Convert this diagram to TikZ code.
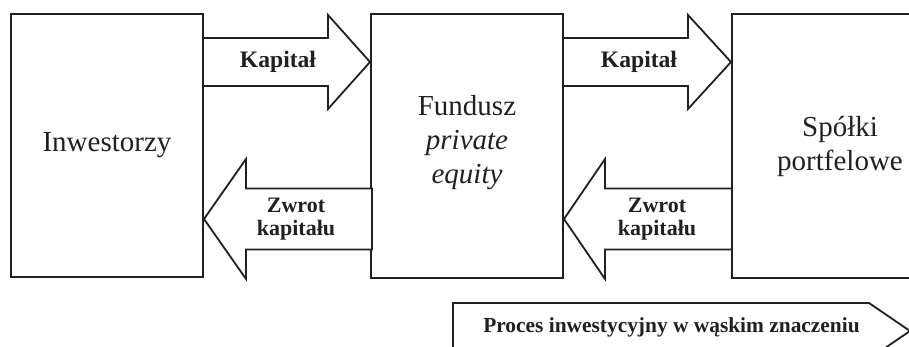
\documentclass[tikz,border=0pt]{standalone}
\usepackage{fontspec}
\setmainfont{Liberation Serif}
\definecolor{ink}{HTML}{231F20}
\begin{document}
\begin{tikzpicture}[x=0.5pt,y=-0.5pt,
  box/.style={draw=ink,line width=1pt,inner sep=0pt},
  barrow/.style={draw=ink,line width=0.9pt,fill=white,line join=miter},
  bigtxt/.style={text=ink,inner sep=0pt,align=center,font=\fontsize{14.5}{17}\selectfont},
  lbl/.style={text=ink,inner sep=0pt,align=center,font=\fontsize{11}{11.5}\selectfont\bfseries}]
\useasboundingbox (0,0) rectangle (909,347);
\clip (0,0) rectangle (909,347);
% boxes
\node[box,minimum width=96pt,minimum height=131.5pt] (inv) at (107,145.5) {};
\node[box,minimum width=96pt,minimum height=132pt] (fund) at (467,146) {};
\node[box,minimum width=110pt,minimum height=132pt,anchor=west] (spol) at (731,146) {};
% box texts
\node[bigtxt] (tinv) at (inv.center) {Inwestorzy};
\node[bigtxt] (tfund) at (467,143) {Fundusz\\\itshape private\\\itshape equity};
\node[bigtxt] (tspol) at (840,147) {Spółki\\portfelowe};
% block arrows
\draw[barrow] (203,38) -- (328,38) -- (328,15) -- (fund.west |- 0,62) -- (328,109) -- (328,86) -- (203,86) -- cycle;
\draw[barrow] (372,188.5) -- (246,188.5) -- (246,159) -- (inv.east |- 0,219) -- (246,279) -- (246,249.5) -- (372,249.5) -- cycle;
\draw[barrow] (563,38) -- (688,38) -- (688,15) -- (spol.west |- 0,62) -- (688,109) -- (688,86) -- (563,86) -- cycle;
\draw[barrow] (732,188.5) -- (605,188.5) -- (605,159) -- (fund.east |- 0,219) -- (605,279) -- (605,249.5) -- (732,249.5) -- cycle;
% arrow labels
\node[lbl,font=\fontsize{11.8}{12}\selectfont\bfseries] (k1) at (278,62) {Kapitał};
\node[lbl,font=\fontsize{11.8}{12}\selectfont\bfseries] (k2) at (639,62) {Kapitał};
\node[lbl] (z1) at (296,219) {Zwrot\\kapitału};
\node[lbl] (z2) at (657,219) {Zwrot\\kapitału};
% process arrow
\draw[barrow] (453,365) -- (453,303) -- (869,303) -- (910,331) -- (869,359) -- (869,365);
\node[lbl,font=\fontsize{10.7}{11}\selectfont\bfseries] (proc) at (671.5,327) {Proces inwestycyjny w wąskim znaczeniu};
\end{tikzpicture}
\end{document}
